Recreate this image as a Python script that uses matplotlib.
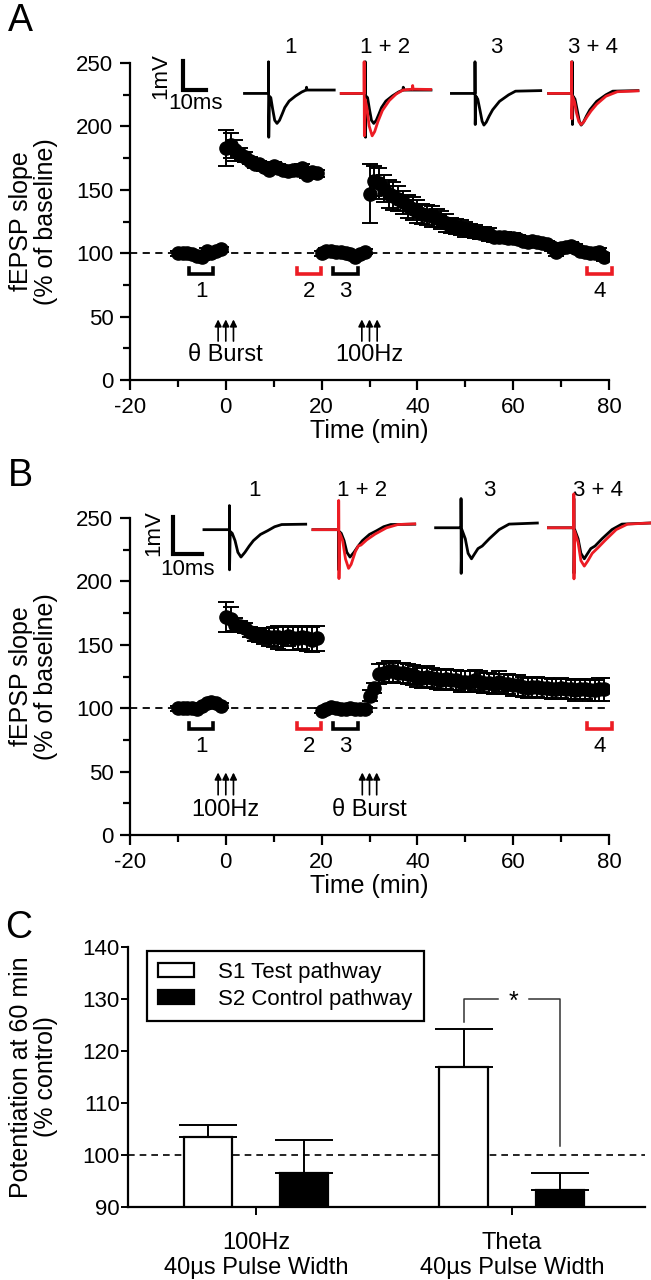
import matplotlib
matplotlib.use('Agg')
import matplotlib.pyplot as plt
import numpy as np

plt.rcParams['font.family'] = ['Liberation Sans', 'DejaVu Sans']
plt.rcParams['axes.unicode_minus'] = False

RED = '#ec1c24'

# ---------------- panel A data (time in min, % of baseline) ----------------
a_base1_t = [-10, -9, -8, -7, -6, -5, -4, -3, -2, -1]
a_base1 = [100, 100, 100, 99, 98, 97, 102, 100, 102, 103]
a_base1_err = [2, 2, 2, 2, 2, 2, 2, 2, 2, 2]

a_post1_t = list(range(0, 20))
a_post1 = [183, 185, 181, 178, 176, 173, 170, 170, 168, 166,
           169, 167, 166, 165, 166, 166, 167, 162, 164, 163]
a_post1_err = [14, 10, 8, 5, 4, 3, 3, 3, 3, 3, 3, 3, 3, 3, 3, 3, 3, 3, 3, 3]

a_base2_t = list(range(20, 30))
a_base2 = [100, 102, 102, 101, 101, 100, 99, 97, 99, 101]
a_base2_err = [2, 2, 2, 2, 2, 2, 2, 2, 2, 2]

a_post2_t = list(range(30, 80))
a_post2 = [147, 157, 155, 151, 147, 145, 143, 140, 137, 135,
           133, 131, 130, 129, 128, 126, 124, 122, 121, 120,
           119, 118, 117, 116, 116, 115, 113, 113, 113, 112,
           112, 111, 110, 109, 110, 109, 108, 107, 105, 101,
           104, 105, 106, 104, 102, 101, 100, 100, 101, 97]
a_post2_err = [23, 12, 12, 11, 11, 11, 10, 9, 9, 9,
               9, 8, 8, 8, 7, 7, 7, 6, 6, 6,
               6, 5, 5, 5, 5, 5, 4, 4, 4, 4,
               4, 3, 3, 3, 3, 3, 3, 3, 3, 3,
               3, 3, 3, 3, 3, 3, 3, 3, 3, 3]

# ---------------- panel B data ----------------
b_base1_t = [-10, -9, -8, -7, -6, -5, -4, -3, -2, -1]
b_base1 = [100, 100, 100, 100, 99, 102, 104, 105, 104, 102]
b_base1_err = [2, 2, 2, 2, 2, 2, 2, 2, 2, 2]

b_post1_t = list(range(0, 20))
b_post1 = [172, 170, 166, 165, 163, 160, 158, 157, 157, 156,
           156, 156, 155, 157, 155, 155, 156, 155, 154, 155]
b_post1_err = [12, 10, 5, 4, 4, 4, 5, 5, 6, 7, 8, 9, 9, 8, 9, 9, 9, 10, 10, 10]

b_base2_t = list(range(20, 30))
b_base2 = [98, 99, 101, 100, 99, 99, 100, 99, 99, 99]
b_base2_err = [2, 2, 2, 2, 2, 2, 2, 2, 2, 2]

b_post2_t = list(range(30, 80))
b_post2 = [110, 116, 127, 128, 129, 129, 128, 128, 127, 126,
           125, 124, 125, 124, 123, 122, 123, 122, 122, 121,
           121, 121, 122, 121, 120, 120, 119, 121, 119, 119,
           118, 118, 117, 116, 117, 117, 116, 116, 115, 115,
           116, 115, 115, 114, 115, 115, 114, 114, 115, 115]
b_post2_err = [4, 4, 8, 8, 8, 8, 8, 8, 8, 8,
               8, 8, 8, 8, 8, 8, 8, 8, 8, 8,
               8, 8, 8, 8, 8, 8, 8, 8, 8, 8,
               8, 8, 8, 8, 8, 8, 8, 8, 8, 8,
               8, 8, 8, 8, 8, 8, 8, 8, 9, 9]

# ---------------- example traces (ms, mV) ----------------
a_tr1_t = [0, 10.5, 10.5, 10.6, 10.9, 11.5, 12.3, 13.2, 14.2, 15.3, 16.5, 17.6, 19.5, 22.3, 25, 26.9, 27.1, 27.3, 39.2]
a_tr1_v = [0, 0, 1.12, -1.55, -0.1, -0.15, -0.55, -0.95, -1.06, -0.95, -0.72, -0.5, -0.27, -0.09, 0.05, 0.12, 0.22, 0.12, 0.12]
a_tr2_t = [0, 10, 10, 10.1, 10.4, 11.2, 12.2, 13.5, 14.6, 16, 18, 21, 24, 27, 31, 31.2, 31.4, 39]
a_tr2_v = [0, 0, 1.12, -1.5, -0.2, -0.5, -1.15, -1.5, -1.35, -1.0, -0.6, -0.25, -0.02, 0.12, 0.15, 0.28, 0.15, 0.14]
a_tr3_t = [0, 10.3, 10.3, 10.4, 10.7, 11.5, 12.5, 13.4, 14.2, 15.2, 16.5, 18, 21, 25, 28, 39]
a_tr3_v = [0, 0, 1.12, -1.1, -0.1, -0.2, -0.6, -0.98, -1.12, -1.02, -0.8, -0.58, -0.28, -0.05, 0.08, 0.1]
a_tr4_t = [0, 10, 10, 10.1, 10.4, 11.3, 12.2, 13.2, 14.2, 15.4, 16.8, 18.5, 21, 25, 30, 39]
a_tr4_v = [0, 0, 1.12, -0.9, -0.1, -0.3, -0.7, -1.0, -1.1, -1.0, -0.82, -0.62, -0.38, -0.1, 0.06, 0.09]

b_tr1_t = [0, 9, 9, 9.05, 9.3, 10, 11, 12, 13.1, 14.5, 16, 17.5, 20, 22.5, 25, 27.5, 36]
b_tr1_v = [0, 0, 0.66, -1.1, -0.05, -0.1, -0.3, -0.62, -0.75, -0.62, -0.45, -0.3, -0.13, -0.03, 0.08, 0.14, 0.15]
b_tr2_t = [0, 9.1, 9.1, 9.2, 9.5, 10.5, 11.5, 12.6, 13.5, 15, 16, 17, 19, 22, 26, 30, 36]
b_tr2_v = [0, 0, 0.8, -1.34, -0.1, -0.3, -0.8, -1.06, -0.95, -0.6, -0.45, -0.42, -0.28, -0.12, 0.05, 0.14, 0.16]
b_tr3_t = [0, 9, 9, 9.05, 9.3, 10.5, 11.5, 12.7, 13.5, 15, 16.5, 19, 22.5, 26, 36]
b_tr3_v = [0, 0, 0.8, -1.25, -0.05, -0.3, -0.7, -0.85, -0.75, -0.57, -0.5, -0.3, -0.05, 0.1, 0.13]
b_tr4_t = [0, 9, 9, 9.05, 9.3, 10.5, 11.5, 12.7, 14, 15.5, 17.5, 20, 24, 28, 36]
b_tr4_v = [0, 0, 0.93, -1.4, -0.1, -0.4, -0.9, -1.05, -0.9, -0.7, -0.55, -0.35, -0.05, 0.1, 0.13]

# ---------------- panel C data ----------------
c_groups = ['100Hz\n40\u00b5s Pulse Width', 'Theta\n40\u00b5s Pulse Width']
c_s1 = [103.4, 116.9]
c_s1_err = [2.4, 7.3]
c_s2 = [96.5, 93.2]
c_s2_err = [6.4, 3.3]

# windows for averaged traces: (start, end, label, colour)
windows = [(-7.6, -2.7, '1', 'k'), (14.8, 19.9, '2', RED),
           (22.4, 27.6, '3', 'k'), (75.4, 80.6, '4', RED)]

FS_TICK = 16
FS_LAB = 18


def setup_time_axis(ax):
    ax.set_xlim(-20, 80)
    ax.set_ylim(0, 250)
    for s in ['top', 'right']:
        ax.spines[s].set_visible(False)
    for s in ['left', 'bottom']:
        ax.spines[s].set_linewidth(1.6)
    ax.set_xticks(range(-20, 81, 20))
    ax.set_xticks(range(-10, 81, 20), minor=True)
    ax.set_yticks(range(0, 251, 50))
    ax.set_yticks(range(25, 251, 50), minor=True)
    ax.tick_params(which='major', direction='out', length=7, width=1.6,
                   labelsize=FS_TICK, pad=5)
    ax.tick_params(which='minor', direction='out', length=5, width=1.6)
    ax.axhline(100, color='k', lw=1.3, ls=(0, (4, 3)), zorder=1)
    ax.set_xlabel('Time (min)', fontsize=FS_LAB, labelpad=1)
    ax.set_ylabel('fEPSP slope\n(% of baseline)', fontsize=FS_LAB, linespacing=1.05)
    ax.yaxis.set_label_coords(-0.15, 0.5)


def plot_series(ax, t, v, e):
    ax.errorbar(t, v, yerr=e, fmt='o', color='k', ms=9.5, capsize=6,
                elinewidth=1.4, capthick=1.4, zorder=3)


def draw_trace(ax, t, v, x0, y0, sx, sy, color):
    ax.plot(x0 + np.asarray(t) * sx, y0 + np.asarray(v) * sy, color=color,
            lw=2.0, clip_on=False, zorder=4)


def draw_windows(ax):
    for x1, x2, lab, col in windows:
        ax.plot([x1, x1, x2, x2], [88, 83.5, 83.5, 88], color=col, lw=2.6,
                clip_on=False, solid_joinstyle='miter')
        ax.text((x1 + x2) / 2, 70, lab, ha='center', va='center', fontsize=FS_TICK)


def draw_arrows(ax, xs, y0, y1, label, ly):
    for x in xs:
        ax.annotate('', xy=(x, y1), xytext=(x, y0),
                    arrowprops=dict(arrowstyle='-|>', color='k', lw=1.2,
                                    mutation_scale=10, shrinkA=0, shrinkB=0))
    ax.text(xs[1], ly, label, ha='center', va='center', fontsize=17)


def scale_bar(ax, x, y, w, h, tx1, ty1, tx2, ty2):
    ax.plot([x, x, x + w], [y + h, y, y], color='k', lw=3.0, clip_on=False,
            solid_joinstyle='miter')
    ax.text(tx1, ty1, '1mV', rotation=90, ha='center', va='center', fontsize=FS_TICK)
    ax.text(tx2, ty2, '10ms', ha='center', va='center', fontsize=FS_TICK)


fig = plt.figure(figsize=(6.51, 12.8), dpi=100)
axA = fig.add_axes([130 / 651, 1 - 380 / 1280, 479 / 651, 317 / 1280])
axB = fig.add_axes([130 / 651, 1 - 835 / 1280, 479 / 651, 317 / 1280])
axC = fig.add_axes([128 / 651, 1 - 1207 / 1280, 517 / 651, 260 / 1280])

# ---------------- A ----------------
setup_time_axis(axA)
plot_series(axA, a_base1_t, a_base1, a_base1_err)
plot_series(axA, a_post1_t, a_post1, a_post1_err)
plot_series(axA, a_base2_t, a_base2, a_base2_err)
plot_series(axA, a_post2_t, a_post2, a_post2_err)
draw_windows(axA)
draw_arrows(axA, [-1.6, 0, 1.6], 30.7, 47.8, '\u03b8 Burst', 19.5)
draw_arrows(axA, [28.4, 30, 31.6], 30.7, 47.8, '100Hz', 19.5)
sxA, syA = 0.478, 22.3
draw_trace(axA, a_tr1_t, a_tr1_v, 3.9, 226, sxA, syA, 'k')
draw_trace(axA, a_tr1_t, a_tr1_v, 24.1, 226, sxA, syA, 'k')
draw_trace(axA, a_tr2_t, a_tr2_v, 24.1, 226, sxA, syA, RED)
draw_trace(axA, a_tr3_t, a_tr3_v, 47.1, 226, sxA, syA, 'k')
draw_trace(axA, a_tr3_t, a_tr3_v, 67.4, 226, sxA, syA, 'k')
draw_trace(axA, a_tr4_t, a_tr4_v, 67.4, 226, sxA, syA, RED)
for x, lab in zip([13.6, 33.3, 56.5, 76.7], ['1', '1 + 2', '3', '3 + 4']):
    axA.text(x, 262, lab, ha='center', va='center', fontsize=FS_TICK)
scale_bar(axA, -9.0, 229, 10 * sxA, syA, -13.6, 239.5, -6.4, 218)

# ---------------- B ----------------
setup_time_axis(axB)
plot_series(axB, b_base1_t, b_base1, b_base1_err)
plot_series(axB, b_post1_t, b_post1, b_post1_err)
plot_series(axB, b_base2_t, b_base2, b_base2_err)
plot_series(axB, b_post2_t, b_post2, b_post2_err)
draw_windows(axB)
draw_arrows(axB, [-1.6, 0, 1.6], 31.7, 49.3, '100Hz', 19.5)
draw_arrows(axB, [28.5, 30, 31.5], 31.7, 49.3, '\u03b8 Burst', 19.5)
sxB, syB = 0.59, 28.8
draw_trace(axB, b_tr1_t, b_tr1_v, -4.56, 240.8, sxB, syB, 'k')
draw_trace(axB, b_tr1_t, b_tr1_v, 18.2, 240.8, sxB, syB, 'k')
draw_trace(axB, b_tr2_t, b_tr2_v, 18.2, 240.8, sxB, syB, RED)
draw_trace(axB, b_tr3_t, b_tr3_v, 43.8, 242.3, sxB, syB, 'k')
draw_trace(axB, b_tr3_t, b_tr3_v, 67.35, 242.3, sxB, syB, 'k')
draw_trace(axB, b_tr4_t, b_tr4_v, 67.35, 242.3, sxB, syB, RED)
for x, lab in zip([6, 28.5, 55, 77.6], ['1', '1 + 2', '3', '3 + 4']):
    axB.text(x, 272, lab, ha='center', va='center', fontsize=FS_TICK)
scale_bar(axB, -10.96, 222, 10 * sxB, syB, -15.1, 237.8, -7.9, 209)

# ---------------- C ----------------
xc = np.arange(len(c_groups))
bw = 0.19
axC.set_xlim(-0.5, 1.52)
axC.set_ylim(90, 140)
axC.axhline(100, color='k', lw=1.2, ls=(0, (4, 3)), zorder=1)
axC.bar(xc - 0.188, c_s1, bw, bottom=0, color='white', edgecolor='k', lw=1.6,
        zorder=2, label='S1 Test pathway')
axC.bar(xc + 0.188, c_s2, bw, bottom=0, color='black', edgecolor='k', lw=1.6,
        zorder=2, label='S2 Control pathway')
axC.errorbar(xc - 0.188, c_s1, yerr=[[0, 0], c_s1_err], fmt='none', ecolor='k',
             elinewidth=1.4, capsize=21, capthick=1.4, zorder=1.5)
axC.errorbar(xc + 0.188, c_s2, yerr=[[0, 0], c_s2_err], fmt='none', ecolor='k',
             elinewidth=1.4, capsize=21, capthick=1.4, zorder=1.5)
for s in ['top', 'right']:
    axC.spines[s].set_visible(False)
for s in ['left', 'bottom']:
    axC.spines[s].set_linewidth(1.6)
axC.set_yticks(range(90, 141, 10))
axC.set_xticks(xc)
axC.set_xticklabels(c_groups, fontsize=17, linespacing=1.15)
axC.tick_params(axis='y', direction='out', length=5, width=1.4,
                labelsize=FS_TICK, pad=1)
axC.tick_params(axis='x', direction='out', length=6, width=1.4, pad=12)
axC.set_ylabel('Potentiation at 60 min\n(% control)', fontsize=FS_LAB, linespacing=1.05)
axC.yaxis.set_label_coords(-0.135, 0.5)

# significance bracket
xl, xr = 1 - 0.188, 1 + 0.188
axC.plot([xl, xl, 0.947], [125.5, 130, 130], color='#333333', lw=1.1, clip_on=False)
axC.plot([1.065, xr, xr], [130, 130, 101.7], color='#333333', lw=1.1, clip_on=False)
axC.text(1.006, 129.5, '*', ha='center', va='center', fontsize=18)

leg = axC.legend(loc='upper left', bbox_to_anchor=(0.037, 0.985), fontsize=16,
                 frameon=True, fancybox=False, edgecolor='k', framealpha=1,
                 handlelength=1.6, handleheight=0.6, handletextpad=1.1,
                 borderpad=0.5, labelspacing=0.25, borderaxespad=0)
leg.get_frame().set_linewidth(1.6)

# panel letters
fig.text(0.012, 1 - 3 / 1280, 'A', fontsize=27, va='top', ha='left')
fig.text(0.012, 1 - 458 / 1280, 'B', fontsize=27, va='top', ha='left')
fig.text(0.008, 1 - 910 / 1280, 'C', fontsize=27, va='top', ha='left')

fig.savefig('out.png', dpi=100)
